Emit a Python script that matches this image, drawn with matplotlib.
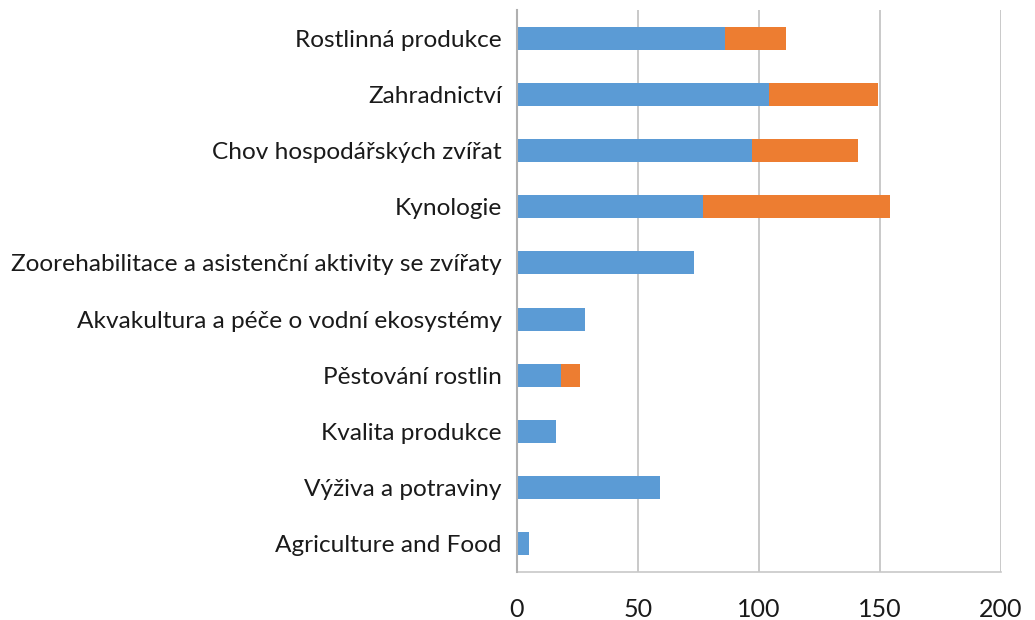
import matplotlib.pyplot as plt
import numpy as np

categories = [
    "Rostlinná produkce",
    "Zahradnictví",
    "Chov hospodářských zvířat",
    "Kynologie",
    "Zoorehabilitace a asistenční aktivity se zvířaty",
    "Akvakultura a péče o vodní ekosystémy",
    "Pěstování rostlin",
    "Kvalita produkce",
    "Výživa a potraviny",
    "Agriculture and Food",
]
series_blue = [86, 104, 97, 77, 73, 28, 18, 16, 59, 5]
series_orange = [25, 45, 44, 77, 0, 0, 8, 0, 0, 0]
x_ticks = [0, 50, 100, 150, 200]

plt.rcParams['font.family'] = ['Lato', 'DejaVu Sans']

fig = plt.figure(figsize=(10.35, 6.2), dpi=100)
ax = fig.add_axes([517 / 1035, 48 / 620, 484 / 1035, 562 / 620])

y = np.arange(len(categories))
blue = np.array(series_blue)
orange = np.array(series_orange)
ax.barh(y, blue, height=0.41, color="#5B9BD5", zorder=3)
ax.barh(y, orange, left=blue, height=0.41, color="#ED7D31", zorder=3)

ax.set_ylim(len(categories) - 0.5, -0.5)
ax.set_xlim(0, 200)
ax.set_xticks(x_ticks)
ax.set_yticks(y)
ax.set_yticklabels(categories, fontsize=17.6, color="#1a1a1a")
ax.tick_params(axis="x", labelsize=18, length=0, pad=19, colors="#1a1a1a")
ax.tick_params(axis="y", length=0, pad=11)
ax.xaxis.grid(True, color="#C0C0C0", linewidth=1.2, zorder=0)

for side in ["top", "right"]:
    ax.spines[side].set_visible(False)
ax.spines["left"].set_color("#B0B0B0")
ax.spines["left"].set_linewidth(1.5)
ax.spines["bottom"].set_color("#C8C8C8")
ax.spines["bottom"].set_linewidth(1.2)
ax.spines["left"].set_zorder(4)

fig.savefig("out.png", dpi=100)
